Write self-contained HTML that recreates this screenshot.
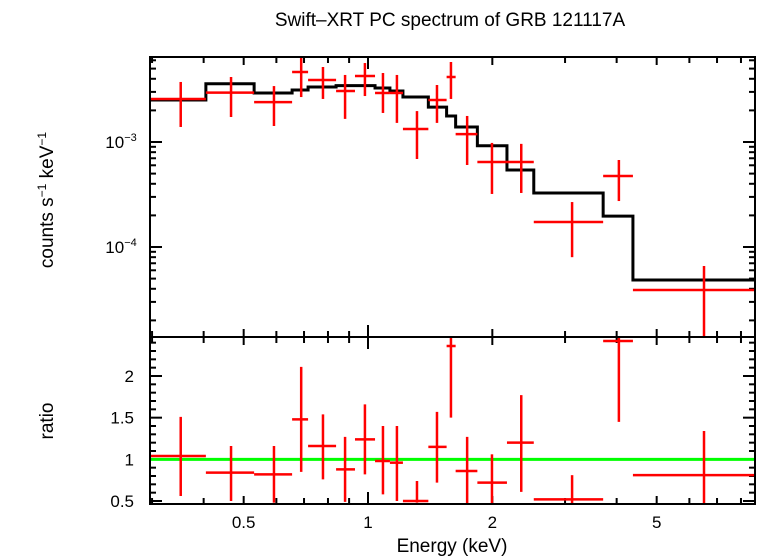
<!DOCTYPE html>
<html><head><meta charset="utf-8">
<style>
html,body{margin:0;padding:0;background:#fff;}
svg{display:block;font-family:"Liberation Sans",sans-serif;}
</style></head>
<body>
<svg id="chart" width="758" height="556" viewBox="0 0 758 556" xmlns="http://www.w3.org/2000/svg">
<rect width="758" height="556" fill="#fff"/>
<text x="450" y="26" font-size="19" text-anchor="middle">Swift–XRT PC spectrum of GRB 121117A</text>
<text transform="translate(53,200) rotate(-90)" font-size="19" text-anchor="middle">counts s<tspan font-size="12" dy="-7">−1</tspan><tspan dy="7"> keV</tspan><tspan font-size="12" dy="-7">−1</tspan></text>
<text transform="translate(53,421) rotate(-90)" font-size="19" text-anchor="middle">ratio</text>
<text x="452" y="552" font-size="19" text-anchor="middle">Energy (keV)</text>
<g id="g"></g>
</svg>
<script>
// ---- data ----
const binLo   = [0.296,0.405,0.530,0.655,0.716,0.837,0.930,1.04,1.13,1.215,1.40,1.55,1.63,1.84,2.17,2.52,3.71,4.38];
const binHi   = [0.405,0.530,0.655,0.716,0.837,0.930,1.04,1.13,1.215,1.40,1.55,1.63,1.84,2.17,2.52,3.71,4.38,8.65];
const binCtr  = [0.352,0.466,0.592,0.689,0.778,0.880,0.983,1.087,1.175,1.314,1.469,1.588,1.738,1.996,2.35,3.12,4.05,6.51];
const flux    = [2.57e-3,2.95e-3,2.40e-3,4.64e-3,3.89e-3,3.06e-3,4.25e-3,2.93e-3,2.93e-3,1.33e-3,2.51e-3,4.16e-3,1.19e-3,6.45e-4,6.45e-4,1.73e-4,4.74e-4,3.89e-5];
const fluxHi  = [3.73e-3,4.16e-3,3.41e-3,6.59e-3,5.18e-3,4.35e-3,5.65e-3,4.54e-3,4.35e-3,1.97e-3,3.49e-3,5.78e-3,1.77e-3,9.8e-4,9.6e-4,2.68e-4,6.74e-4,6.59e-5];
const fluxLo  = [1.39e-3,1.73e-3,1.42e-3,2.68e-3,2.57e-3,1.66e-3,2.74e-3,1.89e-3,1.52e-3,6.89e-4,1.52e-3,2.57e-3,6.04e-4,3.20e-4,3.27e-4,8.0e-5,2.74e-4,1e-6];
const model   = [2.51e-3,3.59e-3,2.93e-3,3.13e-3,3.34e-3,3.44e-3,3.44e-3,3.27e-3,3.06e-3,2.68e-3,2.15e-3,1.77e-3,1.39e-3,9.2e-4,5.41e-4,3.27e-4,1.97e-4,4.85e-5];
const ratio   = [1.04,0.84,0.82,1.48,1.16,0.88,1.24,0.98,0.96,0.50,1.15,2.36,0.86,0.72,1.20,0.52,2.42,0.81];
const ratioHi = [1.51,1.16,1.16,2.11,1.54,1.27,1.66,1.40,1.40,0.74,1.57,3.0,1.27,1.06,1.77,0.81,3.0,1.34];
const ratioLo = [0.56,0.50,0.48,0.85,0.76,0.49,0.82,0.58,0.50,0.48,0.72,1.50,0.45,0.45,0.61,0.45,1.45,0.40];
const xTickLabels = [0.5,1,2,5];
const xMinorTicks = [0.3,0.4,0.5,0.6,0.7,0.8,0.9,1,2,3,4,5,6,7,8];
const yDecades = [-4,-3];
const rTickMajor = [0.5,1,1.5,2];

// ---- axes ----
const L=150,R=755,T1=57,B1=337,T2=337,B2=504;
const X=e=>368+413*Math.log10(e);
const Y1=f=>Math.min(B1,Math.max(T1,142-105*(Math.log10(f)+3)));
const Y2=r=>Math.min(B2,Math.max(T2,376-83.33*(r-2)));
const NS="http://www.w3.org/2000/svg";
const g=document.getElementById('g');
function el(tag,attrs){const e=document.createElementNS(NS,tag);for(const k in attrs)e.setAttribute(k,attrs[k]);g.appendChild(e);return e;}
function line(x1,y1,x2,y2,c,w){return el('line',{x1,y1,x2,y2,stroke:c,'stroke-width':w});}

const defs=el('defs',{});
const cp=document.createElementNS(NS,'clipPath');cp.setAttribute('id','c1');
const r1=document.createElementNS(NS,'rect');r1.setAttribute('x',L);r1.setAttribute('y',T1);r1.setAttribute('width',R-L);r1.setAttribute('height',B1-T1);cp.appendChild(r1);defs.appendChild(cp);

xMinorTicks.forEach(v=>{
  const x=X(v);const major=[0.5,1,2,5].includes(v);const len=v===1?12:(major?8:6);
  [[T1,1],[B1,-1],[T2,1],[B2,-1]].forEach(([y,d])=>{
    const t=line(x,y,x,y+d*len,'#000',2);
    
    
  });
});
{const t=line(X(1),B1-12,X(1),B1+12,'#000',2);}
xTickLabels.forEach(v=>{
  const t=el('text',{x:X(v),y:528,'font-size':17,'text-anchor':'middle'});t.textContent=String(v);
  
  
});
for(let d=-5;d<=-2;d++){for(let m=1;m<10;m++){
  const v=m*Math.pow(10,d);const y=142-105*(Math.log10(v)+3);
  if(y<T1+1||y>B1-1)continue;const len=m===1?12:6;
  const a=line(L,y,L+len,y,'#000',2);
  const b=line(R,y,R-len,y,'#000',2);
}}
yDecades.forEach(d=>{
  const y=142-105*(d+3);
  const t=el('text',{x:121,y:y+6,'font-size':17,'text-anchor':'middle'});
  t.innerHTML='10<tspan font-size="11" dy="-7">'+(d===-3?'−3':'−4')+'</tspan>';
  
  
});
for(let i=5;i<=24;i++){const v=i/10;const y=Y2(v);if(y<=T2+1||y>=B2)continue;
  const major=(i%5===0);const len=major?12:6;
  const a=line(L,y,L+len,y,'#000',2);
  const b=line(R,y,R-len,y,'#000',2);
}
rTickMajor.forEach(v=>{
  const t=el('text',{x:134,y:Y2(v)+6,'font-size':17,'text-anchor':'end'});t.textContent=String(v);
  
  
});

let d='';
binLo.forEach((lo,i)=>{const y=Y1(model[i]);d+=(i===0?'M':'L')+X(lo)+','+y+' L'+X(binHi[i])+','+y+' ';});
const mp=el('path',{d,fill:'none',stroke:'#000','stroke-width':3,'clip-path':'url(#c1)'});



binCtr.forEach((c,i)=>{
  const h=line(X(binLo[i]),Y1(flux[i]),X(binHi[i]),Y1(flux[i]),'#f00',2.5);
  
  
  const v=line(X(c),Y1(fluxHi[i]),X(c),Y1(fluxLo[i]),'#f00',2.5);
  
  
});
const gl=line(L,Y2(1),R,Y2(1),'#0f0',3);


binCtr.forEach((c,i)=>{
  const h=line(X(binLo[i]),Y2(ratio[i]),X(binHi[i]),Y2(ratio[i]),'#f00',2.5);
  
  
  const v=line(X(c),Y2(ratioHi[i]),X(c),Y2(ratioLo[i]),'#f00',2.5);
  
  
});
const f1=el('rect',{x:L,y:T1,width:R-L,height:B1-T1,fill:'none',stroke:'#000','stroke-width':2});


const f2=el('rect',{x:L,y:T2,width:R-L,height:B2-T2,fill:'none',stroke:'#000','stroke-width':2});


</script>
</body></html>
